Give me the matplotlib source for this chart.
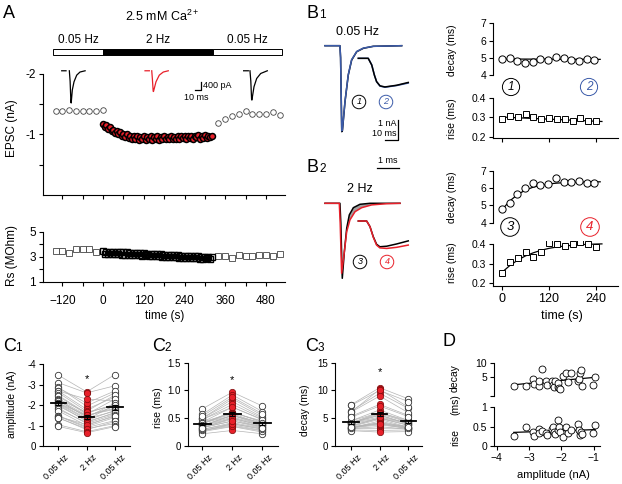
import numpy as np
import matplotlib
matplotlib.use("Agg")
import matplotlib.pyplot as plt
import matplotlib.transforms as mtrans

plt.rcParams['font.family'] = ['Liberation Sans', 'DejaVu Sans']
plt.rcParams['axes.linewidth'] = 0.8
plt.rcParams['mathtext.fontset'] = 'custom'
plt.rcParams['mathtext.rm'] = 'Liberation Sans'

W, H = 622, 484
RED = '#e8202a'
BLUE = '#3b5ba9'
GREY = '#b4b4b4'

# ---------------- data ----------------
# A: EPSC amplitude (nA) and series resistance (MOhm) over time (s)
stim_edges = [-147, 0, 324, 527]
stim_labels = ['0.05 Hz', '2 Hz', '0.05 Hz']
stim_colors = ['white', 'black', 'white']

base_t = [-140, -120, -100, -80, -60, -40, -20, 0]
base_epsc = [-1.38, -1.38, -1.40, -1.38, -1.38, -1.38, -1.39, -1.41]
train_t = np.arange(0, 325, 5)
train_epsc = [-1.18, -1.12, -1.15, -1.09, -1.12, -1.05, -1.08, -1.02, -1.06, -1.00, -1.04, -0.98, -1.01,
              -0.96, -1.00, -0.94, -0.98, -0.93, -0.97, -0.92, -0.97, -0.91, -0.96, -0.92, -0.97, -0.91,
              -0.96, -0.92, -0.97, -0.91, -0.95, -0.92, -0.97, -0.91, -0.96, -0.93, -0.97, -0.92, -0.96,
              -0.93, -0.98, -0.92, -0.96, -0.93, -0.98, -0.92, -0.97, -0.94, -0.98, -0.93, -0.97, -0.94,
              -0.98, -0.93, -0.97, -0.95, -0.99, -0.93, -0.98, -0.94, -0.99, -0.94, -0.98, -0.95, -0.97]
rec_t = [340, 360, 380, 400, 420, 440, 460, 480, 500, 520]
rec_epsc = [-1.19, -1.26, -1.30, -1.33, -1.38, -1.33, -1.33, -1.33, -1.37, -1.32]

base_rs_t = [-140, -120, -100, -80, -60, -40, -20]
base_rs = [3.48, 3.48, 3.27, 3.62, 3.62, 3.62, 3.38]
train_rs = [3.45, 3.25, 3.42, 3.22, 3.40, 3.24, 3.38, 3.20, 3.41, 3.22, 3.36, 3.19, 3.35,
            3.18, 3.37, 3.15, 3.33, 3.17, 3.30, 3.12, 3.31, 3.14, 3.28, 3.10, 3.27, 3.12,
            3.26, 3.08, 3.25, 3.06, 3.23, 3.09, 3.20, 3.04, 3.21, 3.03, 3.18, 3.02, 3.17,
            3.00, 3.16, 2.98, 3.14, 2.97, 3.12, 2.95, 3.10, 2.94, 3.09, 2.93, 3.07, 2.92,
            3.06, 2.90, 3.05, 2.88, 3.04, 2.87, 3.03, 2.86, 3.02, 2.88, 3.01, 2.86, 2.98]
rec_rs = [3.06, 3.06, 2.95, 3.14, 3.06, 3.06, 3.14, 3.14, 3.06, 3.22]

# A: example traces (ms, nA); NaN splits the artefact stub from the EPSC
trA_pre_t = [0, 7.2, np.nan, 12.7, 14.0, 15.3, 15.8, 17.7, 20.5, 25, 30.5, 39]
trA_pre_i = [0, 0, np.nan, 0, -0.5, -1.5, -1.55, -0.92, -0.53, -0.21, -0.06, 0]
trA_2hz_t = [0, 7.2, np.nan, 11.2, 12.3, 13.6, 14.1, 18.3, 23.8, 30.5, 38.8]
trA_2hz_i = [0, 0, np.nan, 0, -0.4, -0.98, -1.0, -0.53, -0.21, -0.06, 0]
trA_post_t = [0, 8.3, np.nan, 11.1, 12.5, 13.8, 14.3, 17.8, 22.3, 29, 40]
trA_post_i = [0, 0, np.nan, 0, -0.5, -1.38, -1.41, -0.77, -0.37, -0.13, 0]

# B1 / B2: averaged EPSCs (ms, nA) and normalised rising phases (ms)
b1_t = [0, 11.5, 12.0, 12.9, 13.4, 15.4, 17.9, 20.5, 24.4, 29.5, 37.2, 59]
b1_black = [0, 0, -0.6, -4.30, -4.25, -2.80, -1.47, -0.72, -0.30, -0.13, -0.03, 0]
b1_blue = [0, 0, -0.6, -4.26, -4.20, -2.78, -1.45, -0.70, -0.29, -0.12, -0.03, 0]
b1r_t = [0, 0.45, 0.61, 0.73, 0.83, 0.985, 1.21, 1.74, 2.27]
b1r_black = [0, 0, -0.24, -0.60, -0.83, -0.98, -1.02, -0.96, -0.86]
b1r_blue = [0, 0, -0.23, -0.59, -0.83, -0.99, -1.03, -0.97, -0.88]

b2_black_t = [0, 11.5, 12.2, 13.3, 14.9, 16.7, 18.7, 21.8, 26.9, 34.6, 57.7]
b2_black = [0, 0, -1.0, -3.75, -2.42, -1.25, -0.58, -0.22, -0.05, 0, 0]
b2_red_t = [0, 11.0, 11.7, 12.8, 14.9, 16.7, 19.2, 23.1, 28.2, 35.9, 47.4, 57.7]
b2_red = [0, 0, -1.0, -3.5, -2.42, -1.42, -0.83, -0.42, -0.22, -0.08, -0.02, 0]
b2r_t = [0, 0.38, 0.53, 0.68, 0.83, 0.98, 1.29, 1.74, 2.27]
b2r_black = [0, 0, -0.20, -0.56, -0.83, -0.92, -0.90, -0.82, -0.71]
b2r_red = [0, 0, -0.20, -0.58, -0.86, -0.96, -0.98, -0.94, -0.86]

# B: kinetics over time (s)
kin_t = np.arange(0, 241, 20)
b1_decay = [4.94, 5.0, 4.84, 4.70, 4.75, 4.94, 4.88, 5.03, 5.0, 4.90, 4.82, 4.94, 4.88]
b1_rise = [0.291, 0.308, 0.300, 0.317, 0.300, 0.290, 0.296, 0.293, 0.291, 0.282, 0.295, 0.284, 0.281]
b2_decay = [4.80, 5.15, 5.68, 6.0, 6.30, 6.20, 6.25, 6.58, 6.38, 6.38, 6.42, 6.28, 6.30]
b2_rise = [0.250, 0.308, 0.330, 0.361, 0.336, 0.362, 0.405, 0.400, 0.391, 0.402, 0.412, 0.400, 0.387]
b1_fit_t = [0, 255]
b1_decay_fit = [4.93, 4.91]
b1_rise_fit = [0.302, 0.279]
b2_fit_t = [0, 20, 40, 60, 80, 100, 120, 140, 160, 180, 200, 220, 255]
b2_decay_fit = [4.75, 5.25, 5.62, 5.88, 6.05, 6.16, 6.24, 6.29, 6.32, 6.34, 6.35, 6.36, 6.37]
b2_rise_fit = [0.255, 0.290, 0.318, 0.340, 0.356, 0.369, 0.379, 0.386, 0.391, 0.395, 0.398, 0.400, 0.402]

# C / D: per-cell values (same cell order in every list)
cond_labels = ['0.05 Hz', '2 Hz', '0.05 Hz']
amp_pre = [-3.47, -3.10, -2.87, -2.85, -2.69, -2.69, -2.61, -2.48, -2.44, -2.30, -2.27, -2.24, -2.20, -2.11,
           -2.10, -2.07, -2.03, -1.96, -1.86, -1.79, -1.72, -1.48, -1.46, -1.44, -1.39, -1.37, -1.04, -0.96]
amp_2hz = [-2.65, -2.60, -1.95, -2.10, -1.80, -2.30, -1.70, -1.60, -1.55, -1.65, -1.50, -1.40, -1.45, -1.35,
           -1.50, -1.30, -1.20, -1.25, -1.10, -1.15, -1.00, -0.95, -0.90, -1.05, -0.80, -0.85, -0.70, -0.65]
amp_post = [-3.50, -2.95, -2.60, -2.70, -2.40, -2.20, -2.50, -2.05, -2.30, -2.00, -1.85, -2.10, -1.95, -1.70,
            -1.80, -2.00, -1.60, -1.75, -1.55, -1.65, -1.50, -1.40, -1.25, -1.45, -1.20, -1.10, -1.00, -0.95]
rise_pre = [0.26, 0.50, 0.37, 0.27, 0.43, 0.33, 0.40, 0.33, 0.28, 0.43, 0.50, 0.37, 0.30, 0.41,
            0.67, 0.48, 0.36, 0.22, 0.48, 0.34, 0.41, 0.57, 0.41, 0.28, 0.37, 0.30, 0.33, 0.54]
rise_2hz = [0.35, 0.85, 0.55, 0.40, 0.60, 0.45, 0.62, 0.50, 0.38, 0.70, 0.80, 0.55, 0.42, 0.60,
            0.97, 0.75, 0.50, 0.28, 0.70, 0.48, 0.58, 0.92, 0.55, 0.36, 0.52, 0.40, 0.45, 0.88]
rise_post = [0.25, 0.55, 0.40, 0.30, 0.45, 0.35, 0.42, 0.36, 0.28, 0.48, 0.52, 0.38, 0.32, 0.44,
             0.72, 0.50, 0.37, 0.22, 0.47, 0.34, 0.40, 0.62, 0.42, 0.27, 0.38, 0.31, 0.33, 0.58]
decay_pre = [3.26, 3.26, 4.53, 3.60, 3.26, 4.17, 7.43, 4.17, 3.42, 4.17, 3.50, 3.15, 4.17, 3.15,
             3.70, 2.90, 2.76, 5.34, 6.30, 4.00, 6.10, 4.17, 4.53, 6.10, 7.30, 3.26, 3.42, 5.17]
decay_2hz = [4.5, 4.2, 6.5, 5.0, 4.0, 5.8, 10.5, 5.5, 4.2, 6.0, 4.8, 3.5, 5.6, 3.2,
             5.0, 2.8, 2.5, 7.5, 9.5, 5.0, 9.0, 5.2, 6.0, 10.2, 10.0, 3.8, 4.0, 7.2]
decay_post = [3.3, 3.2, 4.6, 3.7, 3.1, 4.3, 8.5, 4.0, 3.5, 4.4, 3.4, 3.0, 4.0, 3.2,
              3.8, 2.9, 2.6, 5.5, 6.8, 4.1, 6.0, 4.2, 4.6, 7.0, 8.0, 3.2, 3.4, 5.3]

# ---------------- helpers ----------------
fig = plt.figure(figsize=(W / 100, H / 100), dpi=100)


def add_ax(x0, y0, x1, y1):
    # pixel box (left, top, right, bottom) -> figure axes
    return fig.add_axes([x0 / W, 1 - y1 / H, (x1 - x0) / W, (y1 - y0) / H])


def style(ax, size=8, bottom=True):
    ax.spines['top'].set_visible(False)
    ax.spines['right'].set_visible(False)
    ax.patch.set_alpha(0)
    ax.tick_params(which='both', direction='out', length=3, width=0.8, labelsize=size, pad=2)
    if not bottom:
        ax.spines['bottom'].set_visible(False)
        ax.set_xticks([])


def trace_ax(x0, y0, x1, y1, xlim, ylim):
    ax = add_ax(x0, y0, x1, y1)
    ax.set_xlim(*xlim)
    ax.set_ylim(*ylim)
    ax.axis('off')
    return ax


def ftext(x, y, s, **kw):
    return fig.text(x / W, 1 - y / H, s, **kw)


def panel(x, y, letter, sub=None):
    ftext(x, y, letter, fontsize=13, va='baseline')
    if sub:
        ftext(x + 12.5, y, sub, fontsize=8.5, va='baseline')


def circled(x, y, s, color, size, pad):
    ftext(x, y, s, color=color, fontsize=size, style='italic', ha='center', va='center',
          bbox=dict(boxstyle='circle,pad=%s' % pad, fc='none', ec=color, lw=0.7))


# ---------------- A ----------------
panel(3, 18, 'A')
ftext(162, 21, r'2.5 mM Ca$^{\mathregular{2+}}$', fontsize=9, ha='center', va='baseline')

tlim = (-177, 536)
axp = add_ax(43, 46, 285, 58)
axp.set_xlim(*tlim)
axp.set_ylim(-1, 1)
axp.axis('off')
for lo, hi, lab, col in zip(stim_edges[:-1], stim_edges[1:], stim_labels, stim_colors):
    axp.barh(0, hi - lo, left=lo, height=0.9, color=col, edgecolor='black', lw=0.7)
    axp.text((lo + hi) / 2, 1.5, lab, ha='center', va='baseline', fontsize=8.5)

axA = add_ax(43, 40, 285, 195)
style(axA, 8.5)
axA.set_xlim(*tlim)
axA.set_ylim(0, -2.56)
axA.spines['left'].set_bounds(-2, 0)
axA.set_yticks([-2, -1])
axA.set_yticklabels(['-2', '-1'])
axA.set_yticks([-1.5, -0.5], minor=True)
axA.set_xticks(np.arange(-120, 481, 120))
axA.set_xticks(np.arange(-60, 481, 120), minor=True)
axA.set_xticklabels([])
axA.plot(base_t, base_epsc, 'o', mfc='white', mec='#444444', ms=4, mew=0.6)
axA.plot(rec_t, rec_epsc, 'o', mfc='white', mec='#444444', ms=4, mew=0.6)
axA.plot(train_t, train_epsc, 'o', mfc=RED, mec='black', ms=4.3, mew=1.1)
ftext(12, 128, 'EPSC (nA)', rotation=90, ha='center', va='center', fontsize=8.5)

tr_xlim, tr_ylim = (-1.2, 44), (-1.70, 0.23)
ax = trace_ax(61, 66, 88.1, 106.1, tr_xlim, tr_ylim)
ax.plot(trA_pre_t, trA_pre_i, color='black', lw=0.9)
ax = trace_ax(144.3, 66, 171.4, 106.1, tr_xlim, tr_ylim)
ax.plot(trA_2hz_t, trA_2hz_i, color=RED, lw=0.9)
ax = trace_ax(242.6, 66, 269.7, 106.1, tr_xlim, tr_ylim)
ax.plot(trA_post_t, trA_post_i, color='black', lw=0.9)
ax = trace_ax(193, 78, 230, 100, (-3.3, 58.3), (-0.48, 0.577))
ax.plot([0, 10, 10], [0, 0, 0.4], color='black', lw=0.9)
ax.text(13, 0.24, '400 pA', fontsize=6.5, va='center', ha='left')
ax.text(-18, -0.36, '10 ms', fontsize=6.5, va='center', ha='left')

axR = add_ax(43, 225, 285, 282)
style(axR, 8.5)
axR.set_xlim(*tlim)
axR.set_ylim(1, 5.54)
axR.spines['left'].set_bounds(1, 5)
axR.set_yticks([1, 3, 5])
axR.set_yticks([2, 4], minor=True)
axR.set_xticks(np.arange(-120, 481, 120))
axR.set_xticks(np.arange(-60, 481, 120), minor=True)
axR.tick_params(axis='x', pad=6)
axR.plot(base_rs_t, base_rs, 's', mfc='white', mec='#444444', ms=3.8, mew=0.6)
axR.plot(rec_t, rec_rs, 's', mfc='white', mec='#444444', ms=3.8, mew=0.6)
axR.plot(train_t, train_rs, 's', mfc='none', mec='black', ms=4.5, mew=1.0)
ftext(12, 255, 'Rs (MOhm)', rotation=90, ha='center', va='center', fontsize=8.5)
ftext(165, 316, 'time (s)', ha='center', va='center', fontsize=8.5)

# ---------------- B traces ----------------
panel(307, 18, 'B', '1')
panel(307, 172, 'B', '2')
ftext(358, 32, '0.05 Hz', ha='center', va='center', fontsize=9)
ftext(360, 189, '2 Hz', ha='center', va='center', fontsize=9)

big_xlim, big_ylim = (-2.3, 65.4), (-4.865, 0.285)
ax = trace_ax(322, 40, 410, 143, big_xlim, big_ylim)
ax.plot(b1_t, b1_black, color='black', lw=1.1)
ax.plot(b1_t, b1_blue, color=BLUE, lw=1.1)
ax.plot([46.2, 56.2, 56.2], [-4.72, -4.72, -3.72], color='black', lw=0.9)
ax.text(55, -3.88, '1 nA', fontsize=6.5, ha='right', va='center')
ax.text(55, -4.38, '10 ms', fontsize=6.5, ha='right', va='center')

ax = trace_ax(356, 52, 412, 92, (-0.105, 2.44), (-1.2, 0.225))
ax.plot(b1r_t, b1r_blue, color=BLUE, lw=1.1)
ax.plot(b1r_t, b1r_black, color='black', lw=1.1)

ax = trace_ax(322, 197.6, 410, 300.6, big_xlim, big_ylim)
ax.fill(b2_black_t[3:] + b2_red_t[3:][::-1], b2_black[3:] + b2_red[3:][::-1], color='#a0a0a0', lw=0)
ax.plot(b2_black_t, b2_black, color='black', lw=1.1)
ax.plot(b2_red_t, b2_red, color=RED, lw=1.1)

ax = trace_ax(356, 160, 412, 252, (-0.105, 2.44), (-1.107, 2.18))
ax.plot(b2r_t, b2r_black, color='black', lw=1.1)
ax.plot(b2r_t, b2r_red, color=RED, lw=1.1)
ax.plot([0.85, 1.85], [1.89, 1.89], color='black', lw=0.9)
ax.text(1.35, 2.16, '1 ms', fontsize=6.5, ha='center', va='center')

circled(359, 102, '1', 'black', 6.5, 0.25)
circled(386, 102, '2', BLUE, 6.5, 0.25)
circled(360, 262, '3', 'black', 6.5, 0.25)
circled(387, 262, '4', RED, 6.5, 0.25)

# ---------------- B kinetics ----------------
klim = (-23, 296)


def kin_axes(box, ylim, bounds, ticks, bottom):
    ax = add_ax(*box)
    style(ax, 7.5, bottom=bottom)
    ax.set_xlim(*klim)
    ax.set_ylim(*ylim)
    ax.spines['left'].set_bounds(*bounds)
    ax.set_yticks(ticks)
    if bottom:
        ax.set_xticks([0, 120, 240])
    return ax


ax = kin_axes((493, 20, 616, 78), (3.83, 7.19), (4, 7), [4, 5, 6, 7], False)
ax.plot(b1_fit_t, b1_decay_fit, color='black', lw=0.9)
ax.plot(kin_t, b1_decay, 'o', mfc='white', mec='black', ms=5.2, mew=0.7)
ftext(452, 50, 'decay (ms)', rotation=90, ha='center', va='center', fontsize=7.5)

ax = kin_axes((493, 95, 618, 138), (0.193, 0.417), (0.193, 0.4), [0.2, 0.3, 0.4], True)
ax.set_xticklabels([])
ax.plot(b1_fit_t, b1_rise_fit, color='black', lw=0.9)
ax.plot(kin_t, b1_rise, 's', mfc='white', mec='black', ms=4.4, mew=0.7)
ftext(452, 119, 'rise (ms)', rotation=90, ha='center', va='center', fontsize=7.5)

ax = kin_axes((493, 168, 616, 226), (3.81, 7.17), (4, 7), [4, 5, 6, 7], False)
ax.plot(b2_fit_t, b2_decay_fit, color='black', lw=0.9)
ax.plot(kin_t, b2_decay, 'o', mfc='white', mec='black', ms=5.2, mew=0.7)
ftext(452, 197, 'decay (ms)', rotation=90, ha='center', va='center', fontsize=7.5)

ax = kin_axes((493, 241, 618, 286), (0.184, 0.417), (0.184, 0.4), [0.2, 0.3, 0.4], True)
ax.tick_params(axis='x', labelsize=9, pad=2)
ax.plot(b2_fit_t, b2_rise_fit, color='black', lw=0.9)
ax.plot(kin_t, b2_rise, 's', mfc='white', mec='black', ms=4.4, mew=0.7)
ftext(452, 263, 'rise (ms)', rotation=90, ha='center', va='center', fontsize=7.5)
ftext(562, 316, 'time (s)', ha='center', va='center', fontsize=9)

circled(511, 87, '1', 'black', 8.5, 0.22)
circled(589, 87, '2', BLUE, 8.5, 0.22)
circled(510, 227, '3', 'black', 9.5, 0.25)
circled(590, 227, '4', RED, 9.5, 0.25)

# ---------------- C ----------------
shift = mtrans.ScaledTranslation(4 / 72, 0, fig.dpi_scale_trans)


def paired(box, xlim, ylim, bounds, ticks, ticklabels, cols, star_y, ylabel, lab_xy):
    ax = add_ax(*box)
    style(ax, 7)
    ax.set_xlim(*xlim)
    ax.set_ylim(*ylim)
    ax.spines['left'].set_bounds(*bounds)
    ax.set_yticks(ticks)
    ax.set_yticklabels(ticklabels)
    ax.set_xticks([0, 1, 2])
    ax.set_xticklabels(cond_labels, rotation=45, ha='right', va='top', rotation_mode='anchor', fontsize=6.5)
    for lab in ax.get_xticklabels():
        lab.set_transform(lab.get_transform() + shift)
    data = np.array(cols)
    for row in data.T:
        ax.plot([0, 1, 2], row, color=GREY, lw=0.5, zorder=1)
    for i, col in enumerate(data):
        if i == 1:
            ax.plot(np.full(len(col), i), col, 'o', mfc=RED, mec='#7a0a0a', ms=4.6, mew=0.5, zorder=2)
        else:
            ax.plot(np.full(len(col), i), col, 'o', mfc='white', mec='#333333', ms=4.6, mew=0.6, zorder=2)
        m = col.mean()
        sem = col.std(ddof=1) / np.sqrt(len(col))
        ax.plot([i - 0.27, i + 0.27], [m, m], color='black', lw=1.3, zorder=4)
        ax.errorbar(i, m, yerr=sem, color='black', capsize=2.5, lw=0.9, capthick=0.9, zorder=4)
    ax.text(1, star_y, '*', ha='center', va='center', fontsize=8)
    ftext(lab_xy[0], lab_xy[1], ylabel, rotation=90, ha='center', va='center', fontsize=7.5)
    return ax


panel(3, 351, 'C', '1')
panel(152, 351, 'C', '2')
panel(305, 351, 'C', '3')
paired((43, 360, 130, 446), (-0.54, 2.53), (0, -4.21), (-4, 0), [-4, -3, -2, -1, 0],
       ['-4', '-3', '-2', '-1', '0'], [amp_pre, amp_2hz, amp_post], -3.3, 'amplitude (nA)', (12, 404))
paired((188, 358, 278, 446), (-0.48, 2.52), (0, 1.585), (0, 1.5), [0, 0.5, 1.0, 1.5],
       ['0', '0.5', '1.0', '1.5'], [rise_pre, rise_2hz, rise_post], 1.19, 'rise (ms)', (158, 408))
paired((335, 358, 422, 446), (-0.56, 2.48), (0, 15.85), (0, 15), [0, 5, 10, 15],
       ['0', '5', '10', '15'], [decay_pre, decay_2hz, decay_post], 13.4, 'decay (ms)', (305, 410))

# ---------------- D ----------------
panel(442, 346, 'D')
amp_arr = np.array(amp_pre)
xfit = np.array([amp_arr.min(), amp_arr.max()])
dlim = (-4.08, -0.81)

axD1 = add_ax(494, 360, 600, 396)
style(axD1, 7.5, bottom=False)
axD1.set_yscale('log')
axD1.set_xlim(*dlim)
axD1.set_ylim(1.98, 11.8)
axD1.spines['left'].set_bounds(2, 10)
axD1.set_yticks([2, 5, 10])
axD1.set_yticklabels(['', '5', '10'])
axD1.minorticks_off()
k = np.polyfit(amp_arr, decay_pre, 1)
axD1.plot(xfit, np.polyval(k, xfit), color='black', lw=0.9)
axD1.plot(amp_pre, decay_pre, 'o', mfc='white', mec='black', ms=5, mew=0.6)

axD2 = add_ax(494, 404, 600, 446)
style(axD2, 7.5)
axD2.set_xlim(*dlim)
axD2.set_ylim(0, 1.085)
axD2.spines['left'].set_bounds(0, 1)
axD2.set_yticks([0, 0.5, 1])
axD2.set_yticklabels(['0', '0.5', '1'])
axD2.set_xticks([-4, -3, -2, -1])
k = np.polyfit(amp_arr, rise_pre, 1)
axD2.plot(xfit, np.polyval(k, xfit), color='black', lw=0.9)
axD2.plot(amp_pre, rise_pre, 'o', mfc='white', mec='black', ms=5, mew=0.6)

ftext(455, 378, 'decay', rotation=90, ha='center', va='center', fontsize=7.5)
ftext(455, 405, '(ms)', rotation=90, ha='center', va='center', fontsize=7.5)
ftext(455, 437, 'rise', rotation=90, ha='center', va='center', fontsize=7.5)
ftext(553, 475, 'amplitude (nA)', ha='center', va='center', fontsize=8)

fig.savefig('out.png', dpi=100)
